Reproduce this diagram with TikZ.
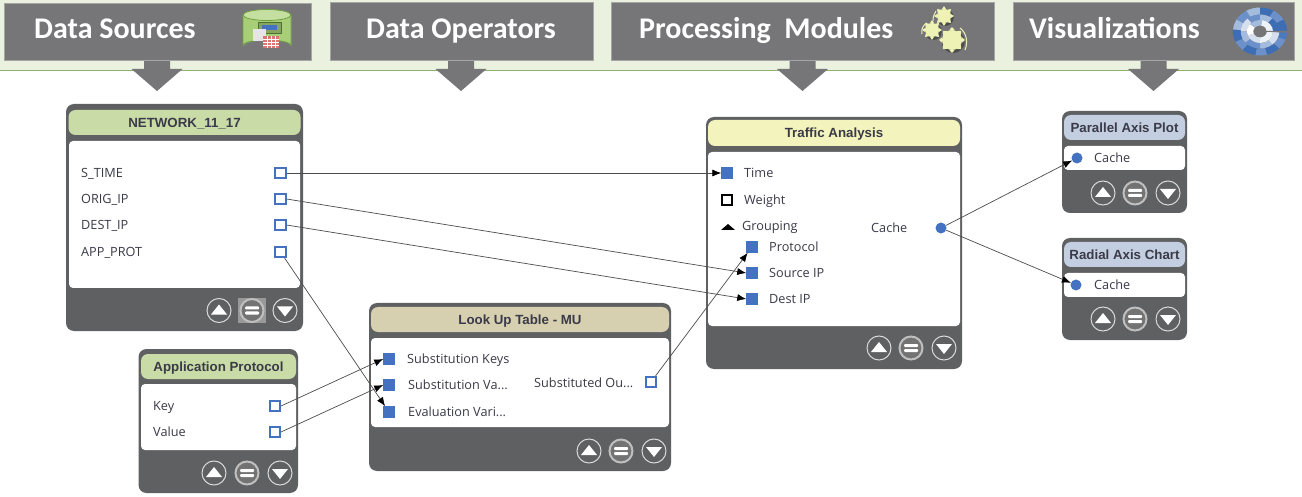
\documentclass[tikz,border=0pt]{standalone}
\usepackage{fontspec}
\setmainfont{Open Sans}
\newfontfamily\hdfont{Carlito}
\newfontfamily\ttlfont{Liberation Sans}
\usetikzlibrary{arrows.meta,calc}
\definecolor{cardgray}{HTML}{5F6062}
\definecolor{hdgray}{HTML}{767678}
\definecolor{bandc}{HTML}{EAF1DF}
\definecolor{bandl}{HTML}{8DB26E}
\definecolor{hgreen}{HTML}{C9DBA6}
\definecolor{hyellow}{HTML}{F2F3BD}
\definecolor{gearc}{HTML}{EEF2B4}
\definecolor{hbeige}{HTML}{D6CFB0}
\definecolor{hblue}{HTML}{C3CFE0}
\definecolor{portb}{HTML}{4472C0}
\definecolor{txt}{HTML}{3A3A48}
\definecolor{dbbody}{HTML}{A8CF78}
\definecolor{dbtop}{HTML}{C5DFA0}
\definecolor{dbline}{HTML}{6FA040}
\tikzset{
  x=1pt,y=-1pt,
  panelbase/.style={inner sep=0pt,outer sep=0pt,rectangle},
  cardshape/.style={panelbase,fill=cardgray,rounded corners=8pt},
  headshape/.style={panelbase,rounded corners=7pt,text=txt,text height=9.5pt,text depth=0pt,font=\ttlfont\bfseries\fontsize{13.3}{13}\selectfont},
  bodyshape/.style={panelbase,fill=white,rounded corners=4pt},
  hdbox/.style={panelbase,fill=hdgray,draw=black!35,line width=.5pt},
  hdtext/.style={anchor=west,inner sep=0pt,text=white,text height=20pt,text depth=0pt,font=\hdfont\bfseries\fontsize{30}{30}\selectfont},
  inport/.style={rectangle,fill=portb,minimum size=11.5pt,inner sep=0pt,outer sep=0pt},
  outport/.style={rectangle,draw=portb,fill=white,line width=1.6pt,minimum size=10.5pt,inner sep=0pt,outer sep=.8pt},
  dotport/.style={circle,fill=portb,minimum size=11pt,inner sep=0pt,outer sep=0pt},
  lbl/.style={anchor=west,inner sep=0pt,text=txt,text height=9pt,text depth=0pt,font=\fontsize{12.7}{13}\selectfont},
  link/.style={draw=black!70,line width=.7pt,-{Latex[length=9pt,width=7pt,black]}},
  btn/.style={circle,draw=black!15,fill=cardgray,line width=1pt,minimum size=24pt,inner sep=0pt},
  btnmid/.style={circle,draw=black!25,fill=black!55,line width=2pt,minimum size=23pt,inner sep=0pt},
  bigarrow/.style={fill=hdgray}
}
\newcommand\panel[7]{%
  \pgfmathsetmacro\pw{#4-#2}\pgfmathsetmacro\ph{#5-#3}%
  \node[#6,minimum width=\pw pt,minimum height=\ph pt] (#1) at ({(#2+#4)/2},{(#3+#5)/2}) {#7};}
\newcommand\btns[5]{%
  \node[btn] (#1a) at (#3,#2) {};
  \fill[white] ($(#3,#2)+(-8,4)$) -- ($(#3,#2)+(8,4)$) -- ($(#3,#2)+(0,-6)$) -- cycle;
  \node[btnmid] (#1b) at (#4,#2) {};
  \fill[white,rounded corners=1pt] ($(#4,#2)+(-7,-4)$) rectangle ($(#4,#2)+(7,-1)$);
  \fill[white,rounded corners=1pt] ($(#4,#2)+(-7,1)$) rectangle ($(#4,#2)+(7,4)$);
  \node[btn] (#1c) at (#5,#2) {};
  \fill[white] ($(#5,#2)+(-8,-4)$) -- ($(#5,#2)+(8,-4)$) -- ($(#5,#2)+(0,6)$) -- cycle;}
\newcommand\bigdown[1]{%
  \fill[bigarrow] ({#1-13},59) -- ({#1+13},59) -- ({#1+13},69) -- ({#1+25.5},69) -- (#1,91) -- ({#1-25.5},69) -- ({#1-13},69) -- cycle;}
\newcommand\gearicon[3]{%
  \fill[black!70] (#1+1.2,#2+1.5) circle (#3+1.5);
  \foreach \ga in {0,45,...,315}{
    \fill[gearc] ($(#1,#2)+(\ga-18:#3)$) -- ($(#1,#2)+(\ga:#3+3)$) -- ($(#1,#2)+(\ga+18:#3)$) -- cycle;}
  \fill[gearc] (#1,#2) circle (#3);}
\newcommand\seg[5]{% angle, delta, rin, rout, colour
  \fill[#5] (#1:#3) -- (#1:#4) arc[start angle=#1,delta angle=#2,radius=#4] -- ({#1+#2}:#3) arc[start angle={#1+#2},delta angle={-(#2)},radius=#3] -- cycle;}
\begin{document}
\begin{tikzpicture}
\useasboundingbox (0,0) rectangle (1302,497);
\fill[white] (0,0) rectangle (1302,497);
% band
\fill[bandc] (0,0) rectangle (1302,71);
\draw[bandl,line width=1pt] (0,71) -- (1302,71);
\bigdown{157}\bigdown{461}\bigdown{802.5}\bigdown{1153.5}
% header boxes
\panel{hsrc}{4.5}{3}{311}{60}{hdbox}{}
\panel{hops}{330}{2}{593}{60}{hdbox}{}
\panel{hproc}{611.5}{2}{994}{60}{hdbox}{}
\panel{hvis}{1013}{2}{1294.5}{60}{hdbox}{}
\node[hdtext] (tsrc) at (34,29) {Data Sources};
\node[hdtext] (tops) at (366,29) {Data Operators};
\node[hdtext] (tproc) at (639,29) {Processing\ \ Modules};
\node[hdtext] (tvis) at (1029,29) {Visualizations};
% database icon
\fill[black!50] (244,16) -- (244,47) arc[start angle=180,end angle=360,x radius=24,y radius=6.5] -- (292,16) -- cycle;
\fill[dbbody,draw=dbline,line width=.8pt] (243,15) -- (243,45.5) arc[start angle=180,end angle=360,x radius=24,y radius=5.5] -- (291,15) -- cycle;
\fill[dbtop,draw=dbline,line width=.8pt] (267,15) ellipse[x radius=24,y radius=5.5];
\fill[dbbody!80!black,draw=dbline!70!black,line width=.6pt] (258,22) rectangle (281,33);
\fill[portb] (262,25) rectangle (277,30.5);
\fill[white!90!black] (253,29) rectangle (266,41);
\fill[red!45!white!85!black] (263,36) rectangle (279,48);
\foreach \yy in {39,42,45}{\draw[white,line width=.7pt] (263,\yy) -- (279,\yy);}
\foreach \xx in {267,271,275}{\draw[white,line width=.7pt] (\xx,36) -- (\xx,48);}
% gears icon
\gearicon{944}{16}{7}
\gearicon{932}{30}{7}
\gearicon{952}{40}{10}
\draw[gearc,line width=1pt] (960,28) .. controls (967,33) and (968,43) .. (965,50);
\draw[gearc,line width=1pt] (927,23) .. controls (923,25) and (921,29) .. (922,34);
\draw[gearc,line width=1pt] (936,11) .. controls (934,14) and (933,17) .. (933,21);
% radial icon
\begin{scope}[shift={(1260,31.5)},xscale=1.13]
  \foreach \a/\c/\d in {0/4A7AC0/20,20/6C90C9/25,45/3D6DB5/30,75/6C90C9/25,100/3D6DB5/30,130/6C90C9/25,155/3D6DB5/30,185/A3BBDD/25,210/6C90C9/30,240/A3BBDD/30,270/3D6DB5/30,300/6C90C9/30,330/3D6DB5/30}{
    \definecolor{segc}{HTML}{\c}\seg{\a}{\d}{17}{24}{segc}}
  \foreach \a/\c/\d in {0/D5DFEE/50,50/A3BBDD/40,90/6C90C9/50,140/A3BBDD/40,180/D5DFEE/50,230/6C90C9/40,270/A3BBDD/40,310/3D6DB5/50}{
    \definecolor{segc}{HTML}{\c}\seg{\a}{\d}{11.5}{17}{segc}}
  \foreach \a/\c/\d in {0/EEF3FA/90,90/D5DFEE/70,160/FFFFFF/60,220/A3BBDD/60,280/EEF3FA/80}{
    \definecolor{segc}{HTML}{\c}\seg{\a}{\d}{6}{11.5}{segc}}
  \fill[hdgray] (-6:5) -- (-2:25) -- (3:25) -- (3:5) -- cycle;
  \fill[hdgray] (0,0) circle (5.5);
\end{scope}
% NETWORK card
\panel{net}{66}{104}{303}{331}{cardshape}{}
\panel{neth}{68.5}{110}{300.5}{135}{headshape,fill=hgreen}{NETWORK\_11\_17}
\panel{netb}{69}{141}{300}{288}{bodyshape}{}
\node[lbl] (l1) at (81,173) {S\_TIME};
\node[lbl] (l2) at (81,199) {ORIG\_IP};
\node[lbl] (l3) at (81,225) {DEST\_IP};
\node[lbl] (l4) at (81,252) {APP\_PROT};
\node[outport] (stime) at (280.5,173) {};
\node[outport] (orig) at (280.5,199) {};
\node[outport] (dest) at (280.5,225) {};
\node[outport] (app) at (280.5,252) {};
\fill[black!40] (238,298) rectangle (266,323);
\btns{nb}{310.5}{219}{252}{285}
% Application Protocol card
\panel{apc}{138.5}{349}{298}{493}{cardshape}{}
\panel{aph}{141}{354}{296}{379}{headshape,fill=hgreen}{Application Protocol}
\panel{apb}{141}{384}{296}{450}{bodyshape}{}
\node[lbl] (l5) at (153,406) {Key};
\node[lbl] (l6) at (153,432) {Value};
\node[outport] (key) at (275,406) {};
\node[outport] (val) at (275,432) {};
\btns{ab}{473}{214}{247}{280}
% Look Up Table card
\panel{luc}{369}{303}{671}{471}{cardshape}{}
\panel{luh}{371}{307}{669}{332}{headshape,fill=hbeige}{Look Up Table - MU}
\panel{lub}{371}{338}{669}{427}{bodyshape}{}
\node[inport] (skey) at (389,359) {};
\node[inport] (sval) at (389,385) {};
\node[inport] (eval) at (389,412) {};
\node[lbl] (l7) at (407,359) {Substitution Keys};
\node[lbl] (l8) at (408,385) {Substitution Va...};
\node[lbl] (l9) at (408,412) {Evaluation Vari...};
\node[lbl] (l10) at (534,383) {Substituted Ou...};
\node[outport] (sout) at (651,382) {};
\btns{lb}{451}{589}{621}{654}
% Traffic Analysis card
\panel{trc}{706}{117}{962}{369}{cardshape}{}
\panel{trh}{708}{120}{960}{146}{headshape,fill=hyellow}{Traffic Analysis}
\panel{trb}{708}{152}{960}{326}{bodyshape}{}
\node[inport] (time) at (727,173) {};
\node[rectangle,draw=black,fill=white,line width=1.6pt,minimum size=10.5pt,inner sep=0pt] (weight) at (727,200) {};
\fill[black] (721,230) -- (735,230) -- (728,224) -- cycle;
\node[inport] (prot) at (752,247) {};
\node[inport] (src) at (752,273) {};
\node[inport] (dst) at (752,299) {};
\node[lbl] (l11) at (744,173) {Time};
\node[lbl] (l12) at (744,200) {Weight};
\node[lbl] (l13) at (742,226) {Grouping};
\node[lbl] (l14) at (769,247) {Protocol};
\node[lbl] (l15) at (769,273) {Source IP};
\node[lbl] (l16) at (769,299) {Dest IP};
\node[lbl] (l17) at (871,228) {Cache};
\node[dotport] (cache) at (941,228) {};
\btns{tb}{348}{879}{911}{944}
% Parallel Axis Plot
\panel{pac}{1062}{111}{1187}{213}{cardshape}{}
\panel{pah}{1064}{115}{1185}{140}{headshape,fill=hblue}{Parallel Axis Plot}
\panel{pab}{1064}{146}{1185}{170}{bodyshape}{}
\node[dotport] (pin) at (1077,158) {};
\node[lbl] (l18) at (1094,158) {Cache};
\btns{pb}{193}{1103}{1135}{1168}
% Radial Axis Chart
\panel{rac}{1062}{238}{1187}{340}{cardshape}{}
\panel{rah}{1064}{242}{1185}{267}{headshape,fill=hblue}{Radial Axis Chart}
\panel{rab}{1064}{273}{1185}{297}{bodyshape}{}
\node[dotport] (rin) at (1076,285) {};
\node[lbl] (l19) at (1094,285) {Cache};
\btns{rb}{319}{1103}{1135}{1168}
% connectors
\draw[link] (stime.east) -- (time.west);
\draw[link] (orig.east) -- (src.west);
\draw[link] (dest.east) -- (dst.west);
\draw[link] (app) -- (eval);
\draw[link] (key.east) -- (skey.west);
\draw[link] (val.east) -- (sval.west);
\draw[link] (sout) -- (prot);
\draw[link] (cache) -- (pin);
\draw[link] (cache) -- (rin);
\end{tikzpicture}
\end{document}
